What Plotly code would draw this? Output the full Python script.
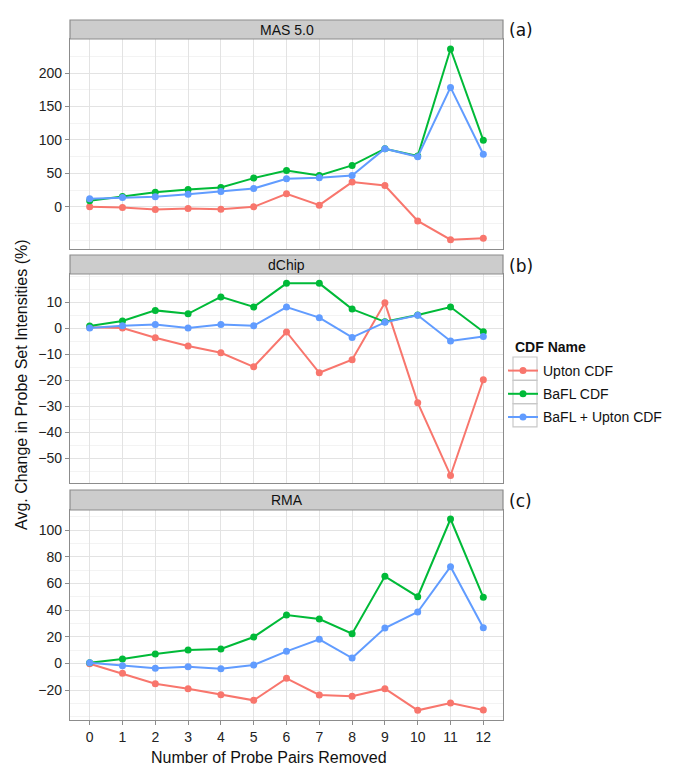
import plotly.graph_objects as go

W, H = 685, 782

x_vals = list(range(13))
series_names = ["Upton CDF", "BaFL CDF", "BaFL + Upton CDF"]
series_colors = ["#F8766D", "#00BA38", "#619CFF"]

# Panel (a) MAS 5.0
mas_upton = [0, -1, -4, -2.5, -3.5, 0, 19.5, 2.5, 37, 32, -21, -49, -47]
mas_bafl = [9, 15.5, 22, 26, 29, 43, 54.5, 47, 62, 87, 76, 236, 99.5]
mas_both = [12, 14, 15, 19, 23, 27.5, 42, 43.5, 47, 87, 75, 178.6, 78.6]

# Panel (b) dChip
dchip_upton = [0.3, 0, -3.7, -6.9, -9.5, -14.9, -1.5, -17.2, -12.2, 9.7, -28.7, -56.7, -19.9]
dchip_bafl = [0.8, 2.7, 6.8, 5.5, 12, 8.1, 17.2, 17.2, 7.3, 2.4, 5, 8.1, -1.4]
dchip_both = [0, 0.9, 1.4, 0, 1.4, 0.9, 8.1, 4, -3.6, 2.2, 4.9, -5, -3.2]

# Panel (c) RMA
rma_upton = [-0.25, -7.5, -15.25, -19, -23.5, -27.75, -11.25, -23.75, -24.75, -19, -35.25, -29.75, -35]
rma_bafl = [0.5, 3.25, 7, 10, 10.75, 19.75, 36.25, 33.25, 22.25, 65.25, 50, 108.25, 49.5]
rma_both = [0.5, -1.75, -3.75, -2.5, -4, -1.25, 9, 18, 4, 26.5, 38.5, 72.5, 26.75]

panel_titles = ["MAS 5.0", "dChip", "RMA"]
panel_labels = ["(a)", "(b)", "(c)"]
panel_data = [
    [mas_upton, mas_bafl, mas_both],
    [dchip_upton, dchip_bafl, dchip_both],
    [rma_upton, rma_bafl, rma_both],
]
y_ranges = [[-63, 251], [-59.6, 20.8], [-42.5, 115]]
y_ticks = [[0, 50, 100, 150, 200], [-50, -40, -30, -20, -10, 0, 10], [-20, 0, 20, 40, 60, 80, 100]]
y_minor = [25, 5, 10]
x_ticks = list(range(13))

# pixel layout
x_left, x_right = 70, 503
plot_px = [(39, 249), (274, 483), (510, 720)]
strip_px = [(20, 39), (255, 274), (490, 510)]


def fy(py):
    return 1 - py / H


def fx(px):
    return px / W


fig = go.Figure()
grid_major = "#e3e3e3"
grid_minor = "#f3f3f3"
border = "#8c8c8c"
font_fam = "Liberation Sans, Arial"

for i in range(3):
    ax = "" if i == 0 else str(i + 1)
    for j in range(3):
        fig.add_trace(go.Scatter(
            x=x_vals, y=panel_data[i][j], mode="lines+markers",
            name=series_names[j], legendgroup=series_names[j],
            showlegend=(i == 0),
            line=dict(color=series_colors[j], width=2),
            marker=dict(color=series_colors[j], size=7),
            xaxis="x" + ax, yaxis="y" + ax,
        ))
    top, bot = plot_px[i]
    fig.layout["xaxis" + ax] = dict(
        domain=[fx(x_left), fx(x_right)], range=[-0.6, 12.6],
        anchor="y" + ax, tickvals=x_ticks, showticklabels=(i == 2),
        ticks="outside" if i == 2 else "", ticklen=4, tickcolor=border,
        showgrid=True, gridcolor=grid_major, gridwidth=1, zeroline=False,
        showline=True, linecolor=border, linewidth=1.2, mirror=True,
        tickfont=dict(family=font_fam, size=14, color="#222"),
        automargin=False,
    )
    fig.layout["yaxis" + ax] = dict(
        domain=[fy(bot), fy(top)], range=y_ranges[i], anchor="x" + ax,
        tickvals=y_ticks[i], ticks="outside", ticklen=4, tickcolor=border,
        showgrid=True, gridcolor=grid_major, gridwidth=1, zeroline=False,
        minor=dict(dtick=y_minor[i], tick0=0, showgrid=True, gridcolor=grid_minor, ticks=""),
        showline=True, linecolor=border, linewidth=1.2, mirror=True,
        tickfont=dict(family=font_fam, size=14, color="#222"),
        automargin=False,
    )
    # strip
    s_top, s_bot = strip_px[i]
    fig.add_shape(type="rect", xref="paper", yref="paper",
                  x0=fx(x_left), x1=fx(x_right), y0=fy(s_bot), y1=fy(s_top),
                  fillcolor="#cccccc", line=dict(color=border, width=1.2), layer="above")
    fig.add_annotation(xref="paper", yref="paper", x=fx((x_left + x_right) / 2),
                       y=fy((s_top + s_bot) / 2), text=panel_titles[i], showarrow=False,
                       font=dict(family=font_fam, size=14, color="#111"),
                       xanchor="center", yanchor="middle")
    fig.add_annotation(xref="paper", yref="paper", x=fx(507), y=fy((s_top + s_bot) / 2 + 1),
                       text=panel_labels[i], showarrow=False,
                       font=dict(family="DejaVu Sans", size=17, color="#111"),
                       xanchor="left", yanchor="middle")

# axis titles
fig.add_annotation(xref="paper", yref="paper", x=fx(21), y=fy(385),
                   text="Avg. Change in Probe Set Intensities (%)", textangle=-90,
                   showarrow=False, xanchor="center", yanchor="middle",
                   font=dict(family=font_fam, size=16, color="#111"))
fig.add_annotation(xref="paper", yref="paper", x=fx(269), y=fy(757),
                   text="Number of Probe Pairs Removed",
                   showarrow=False, xanchor="center", yanchor="middle",
                   font=dict(family=font_fam, size=16, color="#111"))
# legend title
fig.add_annotation(xref="paper", yref="paper", x=fx(513), y=fy(347),
                   text="<b>CDF Name</b>", showarrow=False, xanchor="left", yanchor="middle",
                   font=dict(family=font_fam, size=14, color="#111"))

# legend key boxes
for k in range(3):
    y0p = 357 + k * 23.3
    fig.add_shape(type="rect", xref="paper", yref="paper",
                  x0=fx(513), x1=fx(537), y0=fy(y0p + 23.3), y1=fy(y0p),
                  fillcolor="rgba(0,0,0,0)", line=dict(color="#c8c8c8", width=1.2), layer="above")

fig.update_layout(
    width=W, height=H, margin=dict(l=0, r=0, t=0, b=0),
    paper_bgcolor="white", plot_bgcolor="white",
    legend=dict(
        x=fx(503), y=fy(355), xanchor="left", yanchor="top",
        font=dict(family=font_fam, size=14, color="#111"),
        traceorder="grouped", tracegroupgap=2, itemwidth=30,
        bgcolor="rgba(0,0,0,0)",
    ),
)

fig.write_html("out.html", config={"displayModeBar": False},
               post_script="document.body.style.margin='0';document.body.style.overflow='hidden';")
